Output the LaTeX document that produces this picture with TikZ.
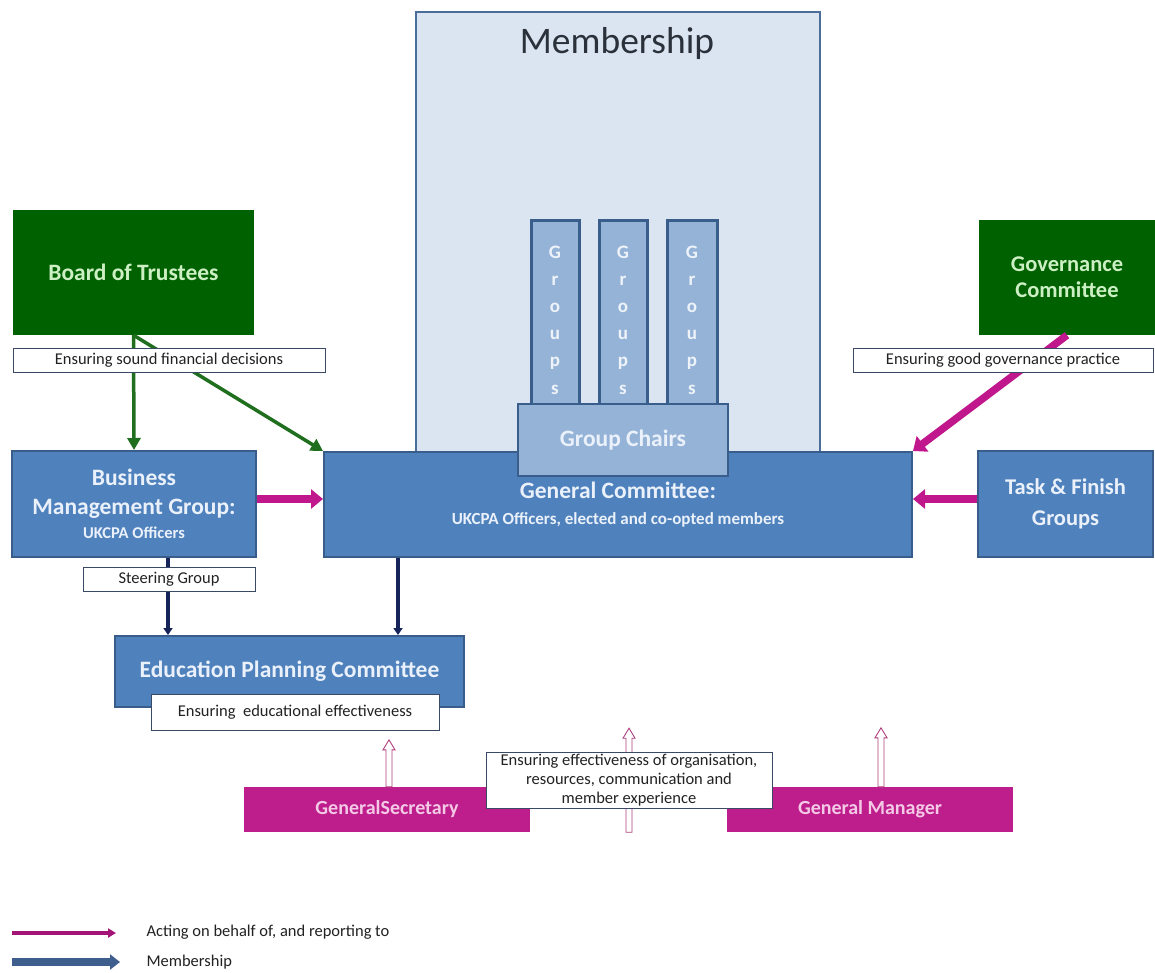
\documentclass[tikz,border=0pt]{standalone}
\usepackage{fontspec}
\setmainfont{Carlito}
\usetikzlibrary{arrows.meta,calc}
\definecolor{memfill}{HTML}{DBE5F1}
\definecolor{memdraw}{HTML}{4A6E9A}
\definecolor{grpfill}{HTML}{95B3D7}
\definecolor{grpdraw}{HTML}{3A5E8C}
\definecolor{grptext}{HTML}{EEF3FA}
\definecolor{bluefill}{HTML}{4F81BD}
\definecolor{bluedraw}{HTML}{385D8A}
\definecolor{bluetext}{HTML}{EAF1FA}
\definecolor{greenfill}{HTML}{006100}
\definecolor{greentext}{HTML}{CDEFC4}
\definecolor{pinkfill}{HTML}{BE1E8C}
\definecolor{pinktext}{HTML}{F3C9E6}
\definecolor{lbldraw}{HTML}{3A4A66}
\definecolor{lbltext}{HTML}{222222}
\definecolor{greenarrow}{HTML}{1F6F1F}
\definecolor{navyarrow}{HTML}{16245A}
\definecolor{pinkarrow}{HTML}{C0188C}
\definecolor{hollowdraw}{HTML}{B0407F}
\definecolor{legblue}{HTML}{3E5F8E}
\newcommand\myfs[2]{\fontsize{#1}{#2}\selectfont}
\begin{document}
\begin{tikzpicture}[x=1pt,y=-1pt,
 membox/.style={rectangle, fill=memfill, draw=memdraw, line width=2.5pt, minimum width=404pt, minimum height=448pt, inner sep=0pt},
 memtitle/.style={font=\myfs{37.5}{42}, text=lbltext!80!memdraw},
 grpcol/.style={rectangle, fill=grpfill, draw=grpdraw, line width=3pt, minimum width=48pt, minimum height=200pt, text=grptext, font=\bfseries\myfs{19}{27.2}, align=center, inner sep=0pt},
 chairs/.style={rectangle, fill=grpfill, draw=grpdraw, line width=2.5pt, minimum width=210pt, minimum height=72pt, text=bluetext, font=\bfseries\myfs{23.5}{28}, inner sep=0pt},
 bluebox/.style={rectangle, fill=bluefill, draw=bluedraw, line width=2pt, text=bluetext, align=center, inner sep=0pt},
 greenbox/.style={rectangle, fill=greenfill, text=greentext, align=center, inner sep=0pt},
 pinkbox/.style={rectangle, fill=pinkfill, text=pinktext, font=\bfseries\myfs{20}{24}, minimum width=286pt, minimum height=45pt, inner sep=0pt},
 lbl/.style={rectangle, fill=white, draw=lbldraw, line width=1pt, text=lbltext, font=\myfs{16.5}{19}, align=center, inner sep=0pt},
 greenarr/.style={draw=greenarrow, line width=3.5pt, -{Triangle[length=12pt,width=13pt]}},
 pinkarr/.style={draw=pinkarrow, line width=7.5pt, -{Triangle[length=12pt,width=19pt]}},
 navyarr/.style={draw=navyarrow, line width=3.5pt, -{Triangle[length=7pt,width=9pt]}},
 hollow/.style={draw=hollowdraw, line width=0.9pt, fill=white},
 legtext/.style={anchor=west, font=\myfs{16.5}{19}, text=lbltext}
]
\useasboundingbox[fill=white] (0,0) rectangle (1155,972);

% Membership
\node[membox] (mem) at (618,236) {};
\node[memtitle] (memt) at (617,44) {Membership};
\node[grpcol] (g1) at (555,320) {G\\r\\o\\u\\p\\s};
\node[grpcol] (g2) at (623,320) {G\\r\\o\\u\\p\\s};
\node[grpcol, minimum width=50pt] (g3) at (692,320) {G\\r\\o\\u\\p\\s};

% General committee and group chairs
\node[bluebox, font=\bfseries\myfs{23.5}{28}, minimum width=588pt, minimum height=105pt] (gc) at (618,504.5)
  {General Committee:\\[-2pt]\myfs{17}{20}UKCPA Officers, elected and co-opted members};
\node[chairs] (gch) at (623,440) {Group Chairs};

% Side boxes
\node[greenbox, font=\bfseries\myfs{23.5}{26}, minimum width=241pt, minimum height=125pt] (board) at (133.5,272.5) {Board of Trustees};
\node[greenbox, font=\bfseries\myfs{22.5}{26}, minimum width=176pt, minimum height=115pt] (gov) at (1067,277.5) {Governance\\Committee};
\node[bluebox, font=\bfseries\myfs{23.5}{29}, minimum width=244pt, minimum height=106pt] (bmg) at (134,504)
  {Business\\Management Group:\\[-5pt]\myfs{16.5}{20}UKCPA Officers};
\node[bluebox, font=\bfseries\myfs{22.5}{31}, minimum width=175pt, minimum height=106pt] (task) at (1065.5,504)
  {Task \& Finish\\Groups};
\node[bluebox, font=\bfseries\myfs{23.5}{28}, minimum width=349pt, minimum height=71pt] (epc) at (289.5,671.5)
  {Education Planning Committee};
\node[pinkbox] (gensec) at (387,809.5) {GeneralSecretary};
\node[pinkbox] (genman) at (870,809.5) {General Manager};

% Connectors
\draw[greenarr] (board.south) -- (bmg.north);
\draw[greenarr] (board.south) -- (gc.north west);
\draw[pinkarr] (gov.south) -- (gc.north east);
\draw[pinkarr] ([yshift=5]bmg.east) -- ([yshift=5]bmg.east -| gc.west);
\draw[pinkarr] ([yshift=5]task.west) -- ([yshift=5]task.west -| gc.east);
\draw[navyarr] ([xshift=34]bmg.south) -- ([xshift=34]bmg.south |- epc.north);
\draw[navyarr] ([xshift=75]gc.south west) -- ([xshift=75]gc.south west |- epc.north);

% Hollow arrows
\path (629,780) coordinate (midc);
\draw[hollow] ([xshift=2]gensec.north) ++(-3,0) -- ++(0,-37) -- ++(-3,0) -- ++(6,-10) -- ++(6,10) -- ++(-3,0) -- ++(0,37) -- cycle;
\draw[hollow] (midc |- gensec.south) ++(-3,0) -- ++(0,-94) -- ++(-3,0) -- ++(6,-10) -- ++(6,10) -- ++(-3,0) -- ++(0,94) -- cycle;
\draw[hollow] ([xshift=11]genman.north) ++(-3,0) -- ++(0,-49) -- ++(-3,0) -- ++(6,-10) -- ++(6,10) -- ++(-3,0) -- ++(0,49) -- cycle;

% Labels
\node[lbl, minimum width=312pt, minimum height=24pt] (finlbl) at (169,360) {Ensuring sound financial decisions};
\node[lbl, minimum width=300pt, minimum height=24pt] (govlbl) at (1003,360) {Ensuring good governance practice};
\node[lbl, minimum width=172pt, minimum height=24pt] (steerlbl) at (169,579) {Steering Group};
\node[lbl, minimum width=288pt, minimum height=36pt] (edlbl) at (295,712) {Ensuring\ \ educational effectiveness};
\node[lbl, minimum width=286pt, minimum height=56pt] (midlbl) at (midc) {Ensuring effectiveness of organisation,\\resources, communication and\\member experience};

% Legend
\coordinate (lp1) at (12,933);
\coordinate (lp2) at (116,933);
\coordinate (lb1) at (12,962);
\coordinate (lb2) at (120,962);
\draw[draw=pinkarrow!85!black, line width=4pt, -{Triangle[length=8pt,width=9pt]}] (lp1) -- (lp2);
\draw[draw=legblue, line width=8pt, -{Triangle[length=10pt,width=15pt]}] (lb1) -- (lb2);
\node[legtext] (lt1) at (143,932) {Acting on behalf of, and reporting to};
\node[legtext] (lt2) at (143,962) {Membership};
\end{tikzpicture}
\end{document}
